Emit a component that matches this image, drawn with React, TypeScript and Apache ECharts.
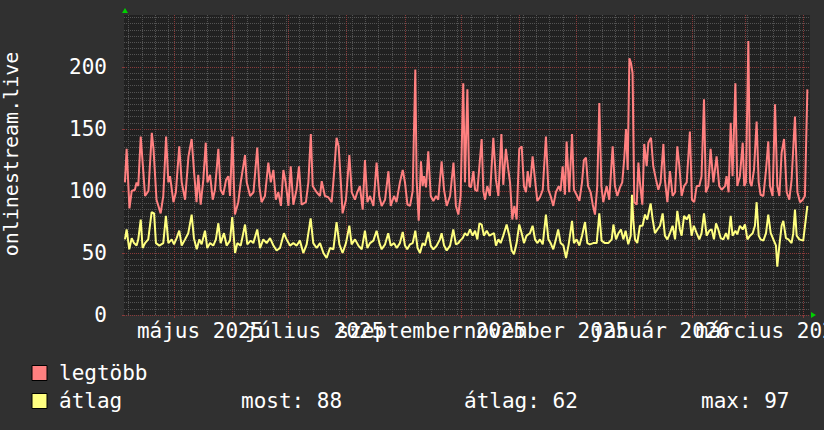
import React, { useEffect, useRef } from 'react';
import * as echarts from 'echarts';

// plot spans one year, from 2025-04-04 12:00 UTC, x values are days since then
const T0 = Date.UTC(2025, 3, 4, 12);
const SPAN_DAYS = 365;
const DAY = 86400000;

const monthNames = ['január', 'február', 'március', 'április', 'május', 'június', 'július', 'augusztus', 'szeptember', 'október', 'november', 'december'];
const monthStarts = ['2025-05-01', '2025-06-01', '2025-07-01', '2025-08-01', '2025-09-01', '2025-10-01', '2025-11-01', '2025-12-01', '2026-01-01', '2026-02-01', '2026-03-01', '2026-04-01'];
// x labels, centred on the middle of every second month (two alternating sets so that none is dropped)
const labelDatesA = ['2025-05-15', '2025-09-15', '2026-01-15'];
const labelDatesB = ['2025-07-15', '2025-11-15', '2026-03-15'];
const firstWeekLine = '2025-04-07';
const yLabelValues = [0, 50, 100, 150, 200];
const yMinorStep = 5;
const yMax = 242;

const yTitle = 'onlinestream.live';
const seriesNames = ['legtöbb', 'átlag'];
const statTexts = ['most: 88', 'átlag: 62', 'max: 97'];

// legtöbb (maximum) — [day, value]
const maxSeries = [
  [0.5, 107], [1.4, 134], [2.9, 86], [4.1, 100], [5.8, 101], [6.7, 107], [7.6, 104], [8.9, 144], [10.3, 115], [11.2, 96],
  [13.0, 100], [14.8, 147], [15.7, 134], [17.3, 93], [19.5, 82], [20.9, 96], [22.4, 144], [23.6, 107], [24.5, 112], [26.3, 91],
  [27.6, 99], [29.4, 136], [30.7, 107], [32.5, 93], [34.3, 128], [36.0, 142], [37.3, 115], [38.6, 91], [39.5, 113], [40.8, 89],
  [42.2, 109], [43.5, 139], [44.4, 107], [45.8, 113], [47.2, 93], [48.4, 101], [50.2, 134], [51.4, 101], [52.8, 97], [54.3, 109],
  [55.5, 112], [56.4, 96], [57.7, 144], [58.5, 104], [59.0, 81], [60.8, 91], [62.1, 107], [64.4, 129], [65.3, 107], [67.1, 96],
  [68.9, 99], [70.9, 135], [72.0, 104], [73.2, 91], [75.0, 96], [76.8, 123], [78.1, 107], [79.5, 117], [80.8, 93], [82.1, 99],
  [83.5, 88], [84.8, 117], [86.0, 107], [87.5, 88], [88.7, 120], [90.1, 89], [91.8, 101], [93.1, 120], [94.5, 89], [96.8, 91],
  [98.1, 107], [99.4, 146], [100.4, 104], [102.5, 99], [104.3, 96], [105.2, 108], [106.9, 96], [108.7, 95], [110.5, 91], [111.8, 115],
  [113.1, 143], [114.2, 136], [115.3, 109], [116.3, 82], [118.1, 93], [119.9, 129], [121.2, 99], [122.9, 93], [124.1, 99], [125.5, 104],
  [127.0, 85], [128.2, 125], [129.5, 91], [130.9, 96], [132.7, 88], [134.4, 123], [135.8, 96], [137.1, 88], [138.9, 93], [140.7, 116],
  [141.9, 88], [143.7, 96], [145.0, 91], [146.8, 107], [148.3, 117], [149.5, 107], [150.8, 89], [152.2, 88], [153.6, 100], [155.0, 198],
  [155.7, 109], [156.8, 76], [158.0, 124], [158.9, 104], [159.6, 112], [160.7, 103], [161.9, 132], [163.2, 96], [164.6, 92], [166.0, 96],
  [167.2, 93], [169.0, 124], [170.3, 101], [171.7, 88], [173.5, 96], [175.3, 123], [176.6, 88], [177.9, 81], [179.1, 96], [180.5, 187],
  [181.4, 107], [182.7, 182], [183.7, 104], [184.6, 103], [185.9, 116], [186.8, 101], [188.0, 100], [189.1, 120], [190.3, 142], [191.2, 100],
  [192.1, 93], [193.3, 104], [194.7, 96], [196.5, 143], [197.9, 109], [199.2, 96], [200.8, 146], [201.8, 105], [203.2, 134], [204.5, 117],
  [205.4, 107], [206.6, 77], [207.7, 88], [208.9, 77], [210.3, 134], [211.6, 136], [212.8, 104], [213.9, 99], [214.8, 116], [216.0, 103],
  [217.4, 128], [218.7, 109], [219.9, 92], [221.3, 95], [222.8, 101], [224.5, 144], [225.8, 101], [227.0, 96], [228.4, 88], [229.8, 99],
  [231.3, 104], [232.3, 100], [233.4, 120], [234.6, 97], [235.5, 140], [236.9, 99], [238.4, 146], [239.4, 101], [240.8, 97], [242.3, 92],
  [243.7, 107], [244.7, 125], [245.8, 127], [246.9, 104], [248.3, 99], [249.4, 89], [250.6, 81], [251.8, 104], [252.9, 171], [254.0, 104],
  [255.0, 91], [256.8, 104], [258.2, 93], [260.0, 136], [261.2, 104], [262.5, 96], [263.9, 103], [265.1, 107], [266.2, 127], [267.1, 150],
  [268.0, 117], [268.9, 207], [269.8, 203], [270.6, 195], [271.5, 91], [272.8, 89], [273.7, 123], [274.5, 107], [275.8, 89], [276.8, 138],
  [278.1, 120], [279.0, 139], [280.4, 143], [281.6, 120], [283.1, 109], [284.3, 101], [285.5, 107], [287.0, 138], [287.8, 109], [289.1, 91],
  [290.5, 116], [291.9, 96], [293.2, 99], [294.4, 136], [295.5, 120], [296.7, 96], [298.0, 104], [299.4, 107], [301.1, 148], [302.2, 93],
  [303.4, 91], [304.7, 104], [306.1, 104], [307.3, 112], [308.6, 174], [309.6, 99], [310.9, 104], [312.1, 134], [313.6, 107], [315.3, 128],
  [316.7, 104], [318.0, 101], [319.8, 104], [320.6, 112], [321.7, 99], [322.8, 155], [323.8, 112], [325.3, 187], [326.3, 104], [327.7, 112],
  [329.2, 139], [330.0, 104], [330.9, 107], [332.2, 221], [333.1, 107], [333.9, 104], [335.2, 117], [336.6, 156], [337.7, 107], [338.7, 97],
  [340.2, 96], [341.6, 117], [342.8, 140], [343.7, 104], [345.1, 96], [346.4, 170], [347.6, 104], [348.7, 96], [349.9, 131], [351.2, 142],
  [352.6, 99], [354.0, 93], [355.2, 109], [357.0, 160], [358.3, 99], [359.7, 91], [361.1, 93], [362.3, 96], [363.6, 182],
];

// átlag (average) — [day, value]
const avgSeries = [
  [0.5, 61], [1.4, 69], [2.8, 53], [4.1, 62], [5.3, 58], [6.7, 56], [7.6, 61], [8.9, 77], [9.9, 54], [11.2, 58],
  [12.9, 61], [14.7, 83], [16.0, 82], [17.0, 58], [18.8, 56], [20.9, 58], [22.3, 80], [23.6, 58], [25.4, 61], [26.6, 57],
  [28.0, 62], [29.4, 68], [30.7, 56], [32.5, 61], [34.2, 66], [36.0, 81], [37.2, 62], [38.7, 53], [40.1, 61], [41.3, 57],
  [43.1, 68], [44.3, 54], [45.8, 58], [47.5, 56], [48.9, 61], [50.2, 74], [51.4, 58], [53.2, 66], [54.6, 56], [56.4, 60],
  [57.6, 79], [59.1, 50], [60.3, 58], [62.1, 56], [64.4, 73], [65.6, 57], [67.4, 60], [68.8, 58], [70.9, 69], [72.4, 54],
  [74.1, 61], [75.9, 58], [77.7, 62], [79.5, 56], [81.2, 52], [83.0, 54], [85.1, 66], [86.5, 61], [88.3, 56], [90.1, 58],
  [91.9, 56], [93.6, 60], [95.4, 50], [97.2, 57], [99.3, 78], [100.7, 58], [102.5, 54], [104.3, 58], [106.1, 50], [107.8, 46],
  [109.6, 54], [111.4, 53], [113.1, 75], [114.6, 57], [116.3, 50], [118.1, 58], [119.9, 72], [121.1, 57], [122.9, 61], [124.7, 56],
  [126.5, 53], [128.2, 68], [129.5, 54], [130.9, 58], [132.7, 60], [134.4, 68], [135.9, 58], [137.1, 53], [138.9, 57], [140.6, 66],
  [141.9, 56], [143.7, 58], [145.1, 54], [146.8, 58], [148.3, 67], [149.5, 56], [150.7, 53], [152.2, 57], [153.6, 58], [155.0, 68],
  [156.2, 54], [157.5, 50], [158.9, 58], [160.1, 56], [161.9, 67], [163.2, 56], [164.6, 53], [166.4, 56], [168.1, 61], [169.0, 66],
  [170.3, 56], [171.7, 52], [173.5, 56], [175.2, 69], [176.6, 57], [177.9, 58],
  [178.8, 60], [180.2, 62], [181.4, 66], [182.7, 64], [184.1, 69], [185.5, 64], [186.8, 68], [188.0, 61], [189.1, 74], [190.3, 73],
  [191.5, 64], [193.0, 68], [194.4, 64], [195.6, 65], [196.9, 66], [197.9, 56], [199.2, 61], [200.4, 58], [201.8, 64], [203.6, 73],
  [205.0, 64], [206.3, 52], [207.5, 49], [208.9, 58], [210.3, 73], [211.6, 66], [212.8, 58], [214.2, 64], [216.0, 66], [217.4, 72],
  [218.7, 61], [219.9, 58], [221.3, 61], [222.8, 57], [224.5, 81], [225.8, 61], [227.0, 58], [228.4, 53], [229.8, 61], [231.0, 69],
  [232.3, 58], [233.8, 56], [235.2, 46], [236.6, 57], [238.4, 76], [239.4, 58], [240.8, 61], [242.3, 56], [243.7, 64], [245.3, 75],
  [246.5, 58], [247.9, 57], [249.7, 58], [251.5, 58], [252.9, 82], [254.1, 60], [255.9, 58], [257.7, 58], [259.5, 61], [260.4, 73],
  [261.8, 61], [263.1, 66], [264.4, 69], [265.7, 61], [266.9, 68], [268.3, 57], [269.6, 64], [270.3, 97], [271.0, 76], [271.9, 61],
  [273.1, 58], [274.5, 72], [275.9, 72], [277.2, 81], [278.4, 77], [280.2, 90], [281.3, 77], [282.5, 66], [283.8, 69], [285.2, 72],
  [286.6, 82], [287.8, 64], [289.1, 61], [290.5, 66], [291.9, 72], [293.2, 61], [294.4, 84], [295.8, 69], [296.7, 64], [298.0, 80],
  [299.4, 77], [300.8, 81], [302.0, 64], [303.2, 72], [304.7, 66], [306.1, 61], [307.3, 66], [308.6, 82], [310.0, 64], [311.4, 68],
  [312.7, 69], [313.9, 61], [315.0, 74], [316.2, 69], [317.5, 62], [318.9, 61], [320.3, 66], [321.5, 61], [322.8, 80], [323.8, 64],
  [325.3, 68], [326.3, 65], [327.7, 72], [329.2, 69], [330.4, 73], [331.7, 61], [333.1, 64], [334.5, 66], [335.7, 72], [336.6, 91],
  [337.7, 64], [338.7, 61], [340.2, 60], [341.6, 66], [342.8, 81], [344.1, 66], [345.5, 61], [346.9, 56], [347.6, 39], [348.7, 56],
  [349.9, 72], [350.8, 76], [352.2, 62], [353.5, 61], [355.2, 58], [356.1, 66], [357.0, 85], [357.9, 64], [359.3, 61], [361.4, 60],
  [363.6, 88],
];

const dayOf = (s: string) => (Date.parse(s + 'T00:00:00Z') - T0) / DAY;

const FONT = '"DejaVu Sans Mono", monospace';
const BG = '#303030';
const PLOT_BG = '#212121';
const MINOR = '#535353';
const MAJOR = '#8a3a3a';
const RED = '#ff8080';
const YELLOW = '#ffff80';
const ARROW = '#00d000';

const GRID_BOX = { left: 124, top: 15, width: 686, height: 300 };

export default function App() {
  const ref = useRef<HTMLDivElement>(null);

  useEffect(() => {
    document.body.style.margin = '0';
    if (!ref.current) return;
    const chart = echarts.init(ref.current, undefined, { renderer: 'svg' });

    const monthDays = monthStarts.map(dayOf);
    const labelDaysA = labelDatesA.map(dayOf);
    const labelDaysB = labelDatesB.map(dayOf);
    const weekDays: number[] = [];
    for (let d = dayOf(firstWeekLine); d < SPAN_DAYS; d += 7) weekDays.push(d);
    const yMinor: number[] = [];
    for (let v = 0; v <= 240; v += yMinorStep) yMinor.push(v);

    const fmt = (v: number) => {
      const d = new Date(T0 + v * DAY);
      return monthNames[d.getUTCMonth()] + ' ' + d.getUTCFullYear();
    };

    const xLabel = (values: number[]) => ({
      show: true,
      customValues: values,
      formatter: fmt,
      color: '#ffffff',
      fontFamily: FONT,
      fontSize: 21,
      margin: 5,
      hideOverlap: false,
      showMinLabel: true,
      showMaxLabel: true,
    });

    const textEl = (text: string, x: number, y: number, size: number, extra: any = {}) => ({
      type: 'text',
      x,
      y,
      silent: true,
      ...extra,
      style: {
        text,
        fill: '#ffffff',
        font: size + 'px ' + FONT,
        textAlign: extra.align || 'left',
        align: extra.align || 'left',
        textVerticalAlign: 'middle',
        verticalAlign: 'middle',
      },
    });

    const option: any = {
      animation: false,
      backgroundColor: BG,
      grid: [
        {
          ...GRID_BOX,
          show: true,
          backgroundColor: PLOT_BG,
          borderWidth: 0,
          containLabel: false,
          outerBoundsMode: 'none',
        },
        {
          ...GRID_BOX,
          show: false,
          containLabel: false,
          outerBoundsMode: 'none',
        },
      ],
      xAxis: [
        {
          type: 'value',
          gridIndex: 0,
          position: 'top',
          min: 0,
          max: SPAN_DAYS,
          axisLine: { show: false },
          axisLabel: { show: false },
          axisTick: { show: true, customValues: weekDays, length: 2, lineStyle: { color: MINOR } },
          splitLine: { show: true, lineStyle: { color: MINOR, width: 1, type: [1, 1] } },
        },
        {
          type: 'value',
          gridIndex: 0,
          position: 'bottom',
          min: 0,
          max: SPAN_DAYS,
          axisLine: { show: false },
          axisTick: { show: true, customValues: monthDays, length: 3, lineStyle: { color: MAJOR } },
          axisLabel: xLabel(labelDaysA),
          splitLine: { show: true, lineStyle: { color: MAJOR, width: 1, type: [1, 1] } },
        },
        {
          type: 'value',
          gridIndex: 1,
          position: 'bottom',
          min: 0,
          max: SPAN_DAYS,
          axisLine: { show: false },
          axisTick: { show: false, customValues: labelDaysB },
          axisLabel: xLabel(labelDaysB),
          splitLine: { show: false },
        },
      ],
      yAxis: [
        {
          type: 'value',
          gridIndex: 0,
          position: 'right',
          min: 0,
          max: yMax,
          axisLine: { show: false },
          axisLabel: { show: false },
          axisTick: { show: false, customValues: yMinor },
          splitLine: { show: true, lineStyle: { color: MINOR, width: 1, type: [1, 1] } },
        },
        {
          type: 'value',
          gridIndex: 0,
          position: 'left',
          min: 0,
          max: yMax,
          axisLine: { show: false },
          axisTick: { show: true, customValues: yLabelValues, length: 2, lineStyle: { color: MAJOR } },
          axisLabel: {
            show: true,
            customValues: yLabelValues,
            color: '#ffffff',
            fontFamily: FONT,
            fontSize: 21,
            margin: 17,
            showMinLabel: true,
            showMaxLabel: true,
          },
          splitLine: { show: true, lineStyle: { color: MAJOR, width: 1, type: [1, 1] } },
        },
        {
          type: 'value',
          gridIndex: 1,
          min: 0,
          max: yMax,
          show: false,
        },
      ],
      series: [
        {
          type: 'line',
          name: seriesNames[0],
          xAxisIndex: 1,
          yAxisIndex: 1,
          data: maxSeries,
          symbol: 'none',
          showSymbol: false,
          lineStyle: { color: RED, width: 2 },
          itemStyle: { color: RED },
          z: 3,
        },
        {
          type: 'line',
          name: seriesNames[1],
          xAxisIndex: 1,
          yAxisIndex: 1,
          data: avgSeries,
          symbol: 'none',
          showSymbol: false,
          lineStyle: { color: YELLOW, width: 2 },
          itemStyle: { color: YELLOW },
          z: 4,
        },
      ],
      graphic: [
        textEl(yTitle, 10.5, 154, 20, { rotation: Math.PI / 2, align: 'center' }),
        { type: 'polygon', silent: true, shape: { points: [[122, 13], [128, 13], [125, 8]] }, style: { fill: ARROW } },
        { type: 'polygon', silent: true, shape: { points: [[811, 312], [811, 318], [816, 315]] }, style: { fill: ARROW } },
        { type: 'rect', silent: true, shape: { x: 32, y: 365.5, width: 15, height: 15 }, style: { fill: RED, stroke: '#000000', lineWidth: 1 } },
        { type: 'rect', silent: true, shape: { x: 32, y: 393.5, width: 15, height: 15 }, style: { fill: YELLOW, stroke: '#000000', lineWidth: 1 } },
        textEl(seriesNames[0], 59, 373, 21),
        textEl(seriesNames[1], 59, 401, 21),
        textEl(statTexts[0], 241, 401, 21),
        textEl(statTexts[1], 464, 401, 21),
        textEl(statTexts[2], 701, 401, 21),
      ],
    };

    chart.setOption(option);
    return () => chart.dispose();
  }, []);

  return <div ref={ref} style={{ width: 824, height: 430 }} />;
}
